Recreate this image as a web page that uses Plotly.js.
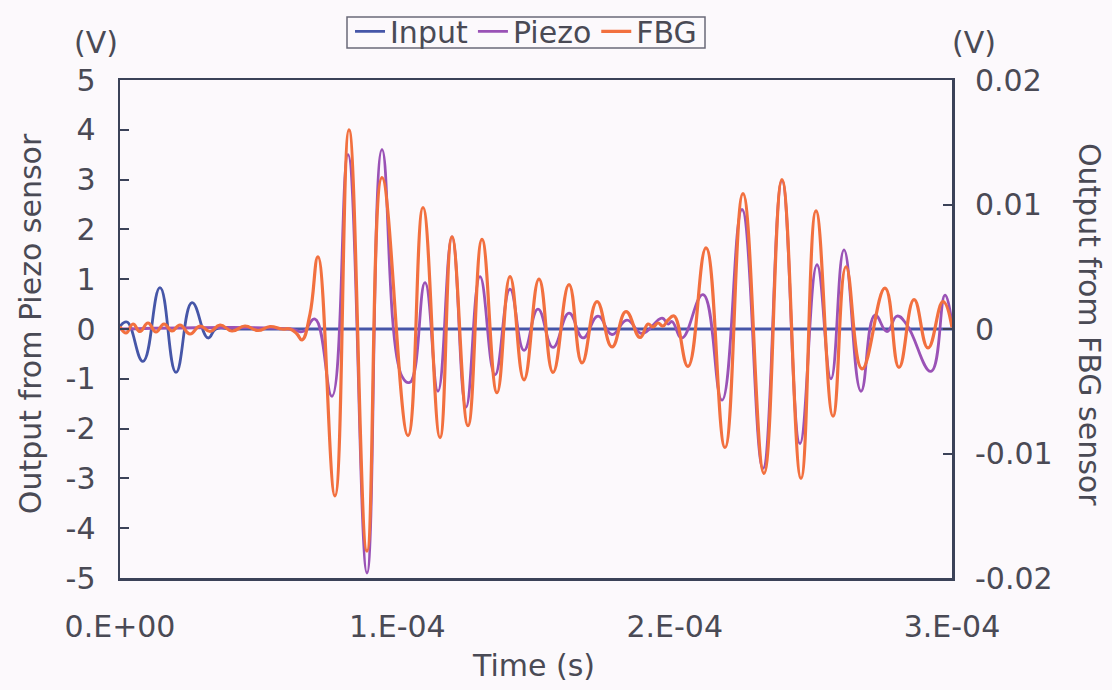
<!DOCTYPE html>
<html>
<head>
<meta charset="utf-8">
<script src="https://cdn.plot.ly/plotly-3.0.1.min.js"></script>
<style>
html,body{margin:0;padding:0;background:#fcf9fc;}
#chart{width:1112px;height:690px;}
</style>
</head>
<body>
<div id="chart"></div>
<script>
// Time values in microseconds (converted to seconds for plotting)
const inputTimeUs = [0, 2.52, 8.29, 14.42, 20.19, 25.96, 31.73, 34.62, 40.38, 300.0];
const inputV      = [0.05, 0.14, -0.65, 0.83, -0.87, 0.53, -0.18, 0, 0, 0];

const piezoTimeUs = [0, 61.30, 65.99, 70.31, 76.44, 82.21, 89.06, 94.47, 101.68, 104.57, 109.98, 114.66, 119.71, 124.76,
  129.81, 135.22, 140.63, 145.67, 150.72, 156.13, 161.90, 166.95, 172.36, 177.41, 182.81, 188.22, 195.43, 197.60, 199.04,
  202.64, 210.22, 217.07, 224.28, 231.85, 238.70, 245.19, 251.32, 256.37, 261.06, 267.19, 272.24, 276.56, 280.17, 283.78,
  292.43, 297.48, 300.0];
const piezoV = [0, 0, -0.05, 0.2, -1.35, 3.5, -4.9, 3.6, -0.95, -1.07, 0.93, -1.25, 1.85, -1.57,
  1.05, -0.92, 0.8, -0.43, 0.4, -0.37, 0.32, -0.18, 0.26, -0.11, 0.18, -0.09, 0.22, 0.1, 0.15,
  -0.18, 0.69, -1.43, 2.4, -2.8, 2.98, -2.3, 1.29, -1.0, 1.59, -1.25, 0.28, -0.05, 0.26, 0.08,
  -0.85, 0.68, 0.1];

const fbgTimeUs = [0, 2.16, 4.69, 7.21, 10.10, 12.98, 15.87, 18.75, 21.63, 25.24, 28.85, 32.45, 36.06, 40.38, 45.07, 49.76, 54.09, 58.41,
  61.30, 63.82, 65.63, 68.51, 71.39, 77.52, 82.57, 89.06, 94.47, 103.85, 109.26, 115.39, 119.71, 125.48, 130.53, 135.94,
  140.63, 145.67, 151.08, 156.13, 161.90, 166.59, 172.00, 177.41, 182.45, 187.50, 190.39, 192.19, 193.99, 195.79, 197.60,
  199.76, 204.81, 211.30, 218.15, 224.64, 232.21, 238.70, 245.55, 250.96, 257.09, 261.78, 267.55, 275.84, 280.89, 286.30,
  291.35, 296.76, 300.0];
const fbgV = [0.0002, -0.00032, 0.0004, -0.0002, 0.00048, -0.00024, 0.0004, -0.00016, 0.00032, -0.0004, 0.00024, -0.0002, 0.00032, -0.00016, 0.00024, -0.00012, 0.0002, 0,
  0, -0.0004, -0.00088, 0.0012, 0.0058, -0.0134, 0.016, -0.01784, 0.01216, -0.00856, 0.00976, -0.00872, 0.0074, -0.00776, 0.0072, -0.00512,
  0.0042, -0.00408, 0.004, -0.00348, 0.00356, -0.00272, 0.0022, -0.00144, 0.0014, -0.00068, 0.0004, 0.00016, 0.00048, 0.00024, 0.00072,
  0.00104, -0.003, 0.00652, -0.00952, 0.01088, -0.0116, 0.012, -0.012, 0.00948, -0.007, 0.005, -0.0032, 0.00328, -0.00308, 0.00236,
  -0.00152, 0.0022, 0.00012];

const xTickVals = [0, 1e-4, 2e-4, 3e-4];
const xTickText = ['0.E+00', '1.E-04', '2.E-04', '3.E-04'];
const yTickVals = [-5, -4, -3, -2, -1, 0, 1, 2, 3, 4, 5];
const yTickText = ['-5', '-4', '-3', '-2', '-1', '0', '1', '2', '3', '4', '5'];
const y2TickVals = [-0.02, -0.01, 0, 0.01, 0.02];
const y2TickText = ['-0.02', '-0.01', '0', '0.01', '0.02'];

const toSec = a => a.map(v => v * 1e-6);
const FONT = 'DejaVu Sans, sans-serif';
const FS = 30;
const TXT = '#4a4a55';
const AX = '#3b4258';

const traces = [
  {x: toSec(inputTimeUs), y: inputV, name: 'Input', type: 'scatter', mode: 'lines',
   line: {color: '#4656a8', width: 2.8, shape: 'spline', smoothing: 1.3}, legendrank: 1},
  {x: toSec(piezoTimeUs), y: piezoV, name: 'Piezo', type: 'scatter', mode: 'lines',
   line: {color: '#9a52b6', width: 2.8, shape: 'spline', smoothing: 1.3}, legendrank: 2},
  {x: toSec(fbgTimeUs), y: fbgV, name: 'FBG', type: 'scatter', mode: 'lines', yaxis: 'y2',
   line: {color: '#f2703f', width: 3.2, shape: 'spline', smoothing: 1.3}, legendrank: 3}
];

const layout = {
  width: 1112, height: 690,
  margin: {l: 120, r: 160, t: 80, b: 112, autoexpand: false},
  paper_bgcolor: '#fcf9fc', plot_bgcolor: '#fcf9fc',
  font: {family: FONT, size: FS, color: TXT},
  showlegend: true,
  legend: {orientation: 'h', x: 0.488, xanchor: 'center', y: 1.15, yanchor: 'top',
           bgcolor: 'rgba(0,0,0,0)', borderwidth: 0,
           font: {family: FONT, size: FS, color: TXT}, tracegroupgap: 0, itemwidth: 30},
  shapes: [
    {type: 'rect', xref: 'paper', yref: 'paper', x0: 227 / 832, x1: 585 / 832, y0: 1 + 32 / 498, y1: 1 + 63 / 498,
     line: {color: '#6a6a78', width: 1.5}, fillcolor: 'rgba(0,0,0,0)', layer: 'below'}
  ],
  xaxis: {range: [0, 3e-4], tickvals: xTickVals, ticktext: xTickText, ticks: '',
          showgrid: false, zeroline: false, showline: true, mirror: true, linecolor: AX, linewidth: 2.5,
          ticklabelstandoff: 20, tickfont: {family: FONT, size: FS, color: TXT}},
  yaxis: {range: [-5, 5], tickvals: yTickVals, ticktext: yTickText, ticks: 'inside', ticklen: 9, tickwidth: 2, tickcolor: AX,
          showgrid: false, zeroline: false, showline: true, mirror: true, linecolor: AX, linewidth: 2.5,
          ticklabelstandoff: 16, tickfont: {family: FONT, size: FS, color: TXT}},
  yaxis2: {range: [-0.02, 0.02], overlaying: 'y', side: 'right', tickvals: y2TickVals, ticktext: y2TickText,
           ticks: 'inside', ticklen: 9, tickwidth: 2, tickcolor: AX,
           showgrid: false, zeroline: false, showline: false,
           ticklabelstandoff: 22, tickfont: {family: FONT, size: FS, color: TXT}},
  annotations: [
    {text: '(V)', xref: 'paper', yref: 'paper', x: -0.029, y: 1.075, xanchor: 'center', yanchor: 'middle', showarrow: false,
     font: {family: FONT, size: FS, color: TXT}},
    {text: '(V)', xref: 'paper', yref: 'paper', x: 1.0265, y: 1.075, xanchor: 'center', yanchor: 'middle', showarrow: false,
     font: {family: FONT, size: FS, color: TXT}},
    {text: 'Output from Piezo sensor', xref: 'paper', yref: 'paper', x: -0.108, y: 0.51, textangle: -90,
     xanchor: 'center', yanchor: 'middle', showarrow: false, font: {family: FONT, size: FS, color: TXT}},
    {text: 'Output from FBG sensor', xref: 'paper', yref: 'paper', x: 1.166, y: 0.51, textangle: 90,
     xanchor: 'center', yanchor: 'middle', showarrow: false, font: {family: FONT, size: FS, color: TXT}},
    {text: 'Time (s)', xref: 'paper', yref: 'paper', x: 0.4975, y: -0.175, xanchor: 'center', yanchor: 'middle',
     showarrow: false, font: {family: FONT, size: FS, color: TXT}}
  ]
};

Plotly.newPlot('chart', traces, layout, {displayModeBar: false, staticPlot: true});
</script>
</body>
</html>
